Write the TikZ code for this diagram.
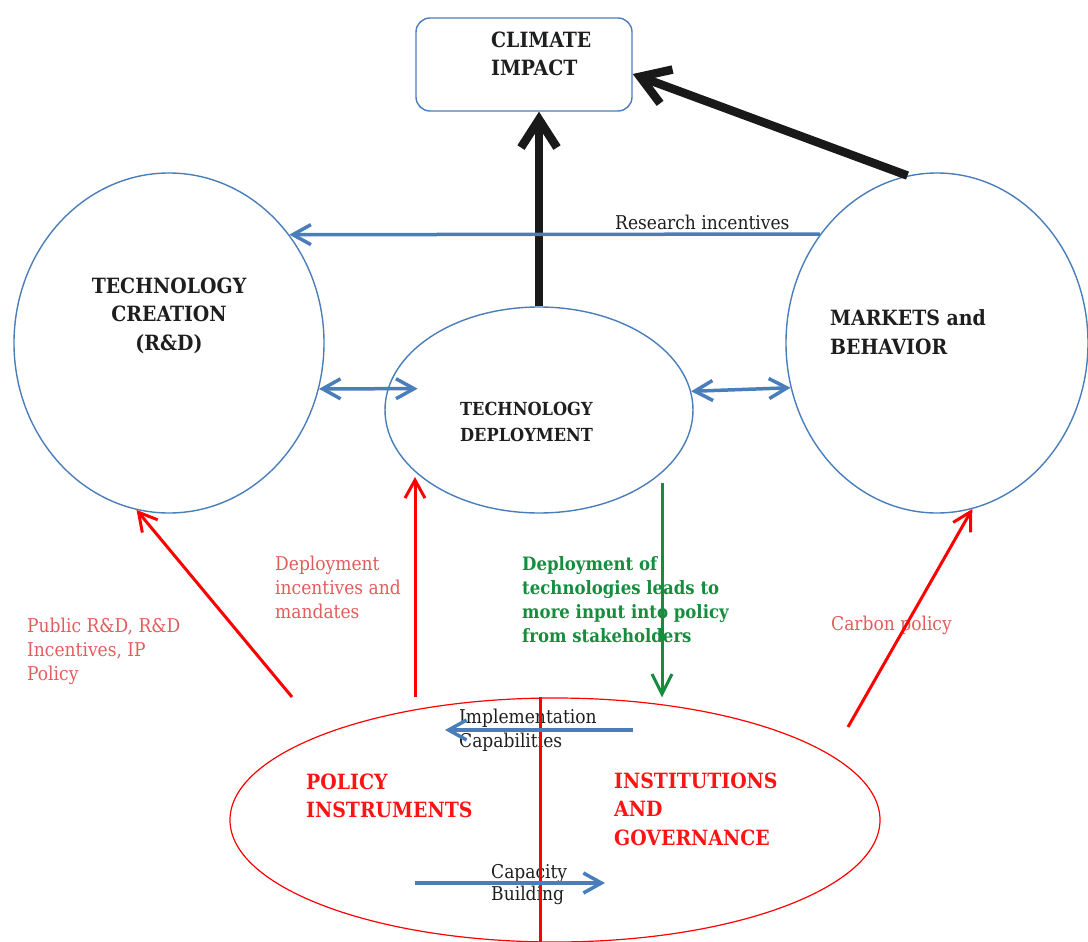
\documentclass[tikz,border=0pt]{standalone}
\usepackage{fontspec}
\setmainfont{DejaVu Serif Condensed}
\usepackage{xcolor}
\usetikzlibrary{shapes,arrows,arrows.meta,positioning,calc}
\definecolor{lineblue}{RGB}{74,126,187}
\definecolor{labelred}{RGB}{226,92,92}
\definecolor{boldred}{RGB}{250,20,20}
\definecolor{deepgreen}{RGB}{22,140,62}
\definecolor{inktext}{RGB}{30,30,30}

\begin{document}
\begin{tikzpicture}[
    x=1pt, y=-1pt,
    bubble/.style={ellipse, draw=lineblue, line width=1.4pt, inner sep=0pt},
    climbox/.style={rectangle, rounded corners=14pt, draw=lineblue, line width=1.4pt, minimum width=216pt, minimum height=93pt},
    headtxt/.style={anchor=north west, inner sep=0pt, align=left, text=inktext, font=\fontsize{21}{28.5}\selectfont\bfseries},
    redhead/.style={headtxt, text=boldred},
    labeltxt/.style={anchor=north west, inner sep=0pt, align=left, text=labelred, font=\fontsize{19}{24}\selectfont},
    bigarrow/.style={line width=8.5pt, draw=black!90, -{Straight Barb[length=28pt,width=36pt]}},
    bluearrow/.style={line width=3.5pt, draw=lineblue, -{Straight Barb[length=18pt,width=20pt]}},
    bluedbl/.style={line width=3.5pt, draw=lineblue, {Straight Barb[length=18pt,width=20pt]}-{Straight Barb[length=18pt,width=20pt]}},
    redarrow/.style={line width=3pt, draw=red, -{Straight Barb[length=18pt,width=20pt]}},
    greenarrow/.style={line width=3pt, draw=deepgreen, -{Straight Barb[length=20pt,width=20pt]}}
]
\useasboundingbox (0,0) rectangle (1088,942);
\clip (0,0) rectangle (1088,942);

% shapes
\node[climbox] (climate) at (524,64.5) {};
\node[bubble, minimum width=310pt, minimum height=340pt] (creation) at (169,343) {};
\node[bubble, minimum width=308pt, minimum height=206pt] (deploy) at (539,410) {};
\node[bubble, minimum width=302pt, minimum height=340pt] (markets) at (937,343) {};
\node[bubble, draw=red, line width=1.2pt, minimum width=650pt, minimum height=244pt] (policy) at (555,820) {};

% texts
\node[headtxt] (climatetxt) at (491,31.5) {CLIMATE\\IMPACT};
\node[headtxt, anchor=north, align=center] (creationtxt) at (169,277.5) {TECHNOLOGY\\CREATION\\(R\&D)};
\node[headtxt, font=\fontsize{18}{26}\selectfont\bfseries] (deploytxt) at (460,402) {TECHNOLOGY\\DEPLOYMENT};
\node[headtxt] (marketstxt) at (830,309.5) {MARKETS and\\BEHAVIOR};
\node[redhead] (policytxt) at (306,773.5) {POLICY\\INSTRUMENTS};
\node[redhead] (institxt) at (614,772.5) {INSTITUTIONS\\AND\\GOVERNANCE};
\node[labeltxt, text=inktext] (researchtxt) at (615,215) {Research incentives};
\node[labeltxt] (publictxt) at (27,618) {Public R\&D, R\&D\\Incentives, IP\\Policy};
\node[labeltxt] (depinctxt) at (275,556) {Deployment\\incentives and\\mandates};
\node[labeltxt, text=deepgreen, font=\fontsize{18.4}{24}\selectfont\bfseries] (feedbacktxt) at (522,556) {Deployment of\\technologies leads to\\more input into policy\\from stakeholders};
\node[labeltxt] (carbontxt) at (831,616) {Carbon policy};
\node[labeltxt, text=inktext] (impltxt) at (459,709) {Implementation\\Capabilities};
\node[labeltxt, text=inktext, font=\fontsize{19}{22}\selectfont] (capactxt) at (491,864) {Capacity\\Building};

% free ends
\coordinate (pubstart) at (292,697);
\coordinate (depstart) at (415,697);
\coordinate (carbstart) at (848,727);
\coordinate (greenstart) at (662,483);
\coordinate (implright) at (633,730);
\coordinate (implleft) at (445,730);
\coordinate (capleft) at (415,883);
\coordinate (capright) at (605,883);

% connectors
\draw[bigarrow] (deploy.north) -- (deploy.north |- climate.south);
\draw[bigarrow] (markets.100) -- (climate.-5);
\draw[bluearrow] (markets.137.3) -- (creation.42);
\draw[bluedbl, shorten >=-30pt] (creation.-17.5) -- (deploy.172.5);
\draw[bluedbl] (deploy.7.5) -- (markets.197.3);
\draw[redarrow] (pubstart) -- (creation.259.6);
\draw[redarrow, shorten >=6pt] (depstart) -- (depstart |- deploy.206);
\draw[redarrow] (carbstart) -- (markets.-78.3);
\draw[greenarrow] (greenstart) -- (greenstart |- policy.north);
\draw[red, line width=3pt] (540,697) -- (540,942);
\draw[bluearrow] (implright) -- (implleft);
\draw[bluearrow] (capleft) -- (capright);
\end{tikzpicture}
\end{document}
